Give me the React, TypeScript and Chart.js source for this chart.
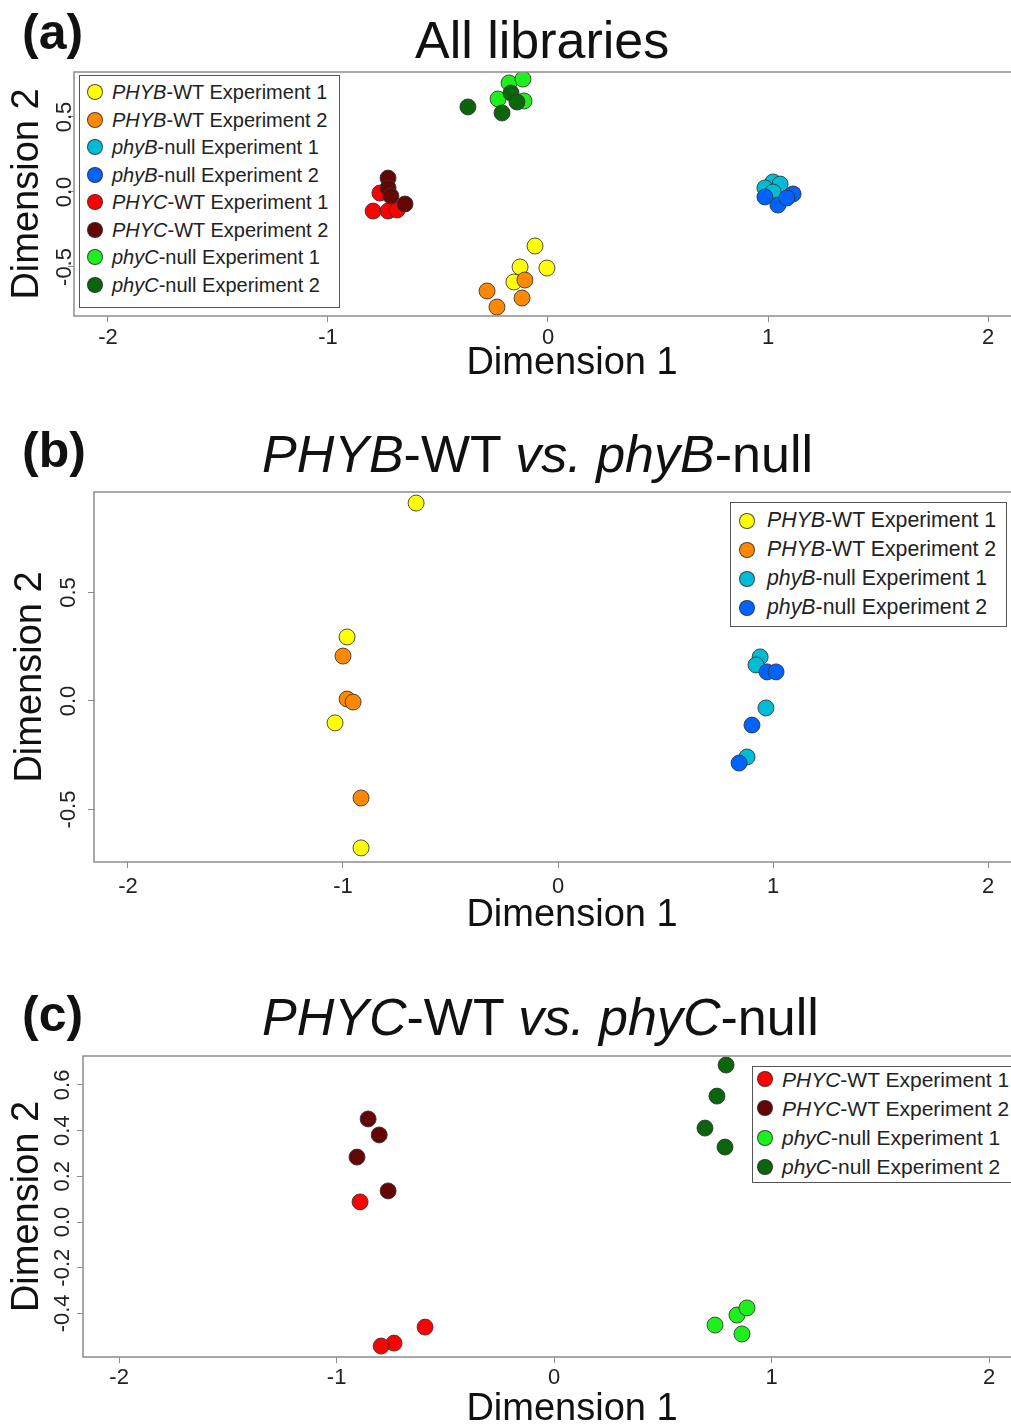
import React, { useEffect, useRef } from 'react';
import { Chart, registerables } from 'chart.js';

Chart.register(...registerables);

const FONT = '"Liberation Sans", Arial, Helvetica, sans-serif';

// ---- series definitions (label = italic gene part + plain rest) ----
const SERIES_ITALIC = ['PHYB', 'PHYB', 'phyB', 'phyB', 'PHYC', 'PHYC', 'phyC', 'phyC'];
const SERIES_REST = [
  '-WT Experiment 1', '-WT Experiment 2', '-null Experiment 1', '-null Experiment 2',
  '-WT Experiment 1', '-WT Experiment 2', '-null Experiment 1', '-null Experiment 2',
];
const SERIES_COLORS = ['#FFFF00', '#FF8800', '#00BCD6', '#0062FF', '#FF0000', '#640606', '#1EF01E', '#0B650B'];

// ---- axis ticks ----
const X_TICK_STEP = 1;
const Y_TICK_STEP_AB = 0.5;
const Y_TICK_STEP_C = 0.2;

// ---- panel (a): all libraries, [Dimension 1, Dimension 2] ----
const A_PHYB_WT_1 = [[-0.059, -0.36], [-0.005, -0.507], [-0.127, -0.5], [-0.155, -0.6]];
const A_PHYB_WT_2 = [[-0.105, -0.587], [-0.277, -0.66], [-0.232, -0.767], [-0.118, -0.707]];
const A_PHYB_NULL_1 = [[1.023, 0.067], [1.055, 0.053], [0.986, 0.027], [1.023, 0.0]];
const A_PHYB_NULL_2 = [[1.114, -0.013], [1.045, -0.087], [0.986, -0.033], [1.086, -0.04]];
const A_PHYC_WT_1 = [[-0.795, -0.127], [-0.727, -0.127], [-0.686, -0.12], [-0.764, -0.007]];
const A_PHYC_WT_2 = [[-0.727, 0.093], [-0.727, 0.027], [-0.714, -0.027], [-0.65, -0.08]];
const A_PHYC_NULL_1 = [[-0.177, 0.727], [-0.114, 0.753], [-0.227, 0.62], [-0.109, 0.607]];
const A_PHYC_NULL_2 = [[-0.364, 0.567], [-0.209, 0.527], [-0.168, 0.66], [-0.141, 0.6]];

// ---- panel (b): PHYB-WT vs phyB-null ----
const B_PHYB_WT_1 = [[-0.66, 0.912], [-0.981, 0.295], [-1.037, -0.101], [-0.916, -0.677]];
const B_PHYB_WT_2 = [[-1.0, 0.207], [-0.981, 0.009], [-0.953, -0.005], [-0.916, -0.447]];
const B_PHYB_NULL_1 = [[0.94, 0.203], [0.921, 0.166], [0.967, -0.032], [0.879, -0.258]];
const B_PHYB_NULL_2 = [[0.972, 0.134], [1.014, 0.134], [0.902, -0.111], [0.842, -0.286]];

// ---- panel (c): PHYC-WT vs phyC-null ----
const C_PHYC_WT_1 = [[-0.892, 0.088], [-0.593, -0.46], [-0.736, -0.53], [-0.795, -0.543]];
const C_PHYC_WT_2 = [[-0.855, 0.451], [-0.804, 0.381], [-0.906, 0.284], [-0.763, 0.136]];
const C_PHYC_NULL_1 = [[0.74, -0.451], [0.841, -0.407], [0.887, -0.376], [0.864, -0.49]];
const C_PHYC_NULL_2 = [[0.791, 0.687], [0.749, 0.551], [0.694, 0.411], [0.786, 0.328]];

// ---- layout (page pixels) ----
type Layout = {
  canvasTop: number; canvasWidth: number; canvasHeight: number; padTop: number;
  yScaleWidth: number; xScaleHeight: number;
  xMin: number; xMax: number; yMin: number; yMax: number; yStep: number;
  xTickPad: number; yTitlePad: number; yLabelX: number;
  legend: { left: number; top: number; width: number; height: number; rowTop: number; rowGap: number; markerX: number; textX: number; font: number };
};

const PANELS: { series: number[]; data: number[][][]; layout: Layout }[] = [
  {
    series: [0, 1, 2, 3, 4, 5, 6, 7],
    data: [A_PHYB_WT_1, A_PHYB_WT_2, A_PHYB_NULL_1, A_PHYB_NULL_2, A_PHYC_WT_1, A_PHYC_WT_2, A_PHYC_NULL_1, A_PHYC_NULL_2],
    layout: {
      canvasTop: 62, canvasWidth: 1070, canvasHeight: 330, padTop: 10,
      yScaleWidth: 74, xScaleHeight: 76,
      xMin: -2.1545, xMax: 2.3727, yMin: -0.8267, yMax: 0.8, yStep: Y_TICK_STEP_AB,
      xTickPad: 5, yTitlePad: 9, yLabelX: 65,
      legend: { left: 79, top: 75, width: 261, height: 233, rowTop: 92, rowGap: 27.57, markerX: 95, textX: 112, font: 20 },
    },
  },
  {
    series: [0, 1, 2, 3],
    data: [B_PHYB_WT_1, B_PHYB_WT_2, B_PHYB_NULL_1, B_PHYB_NULL_2],
    layout: {
      canvasTop: 482, canvasWidth: 1050, canvasHeight: 462, padTop: 10,
      yScaleWidth: 94, xScaleHeight: 82,
      xMin: -2.158, xMax: 2.288, yMin: -0.742, yMax: 0.963, yStep: Y_TICK_STEP_AB,
      xTickPad: 8, yTitlePad: 12, yLabelX: 69,
      legend: { left: 730, top: 502, width: 277, height: 125, rowTop: 521, rowGap: 29, markerX: 747, textX: 767, font: 21.3 },
    },
  },
  {
    series: [4, 5, 6, 7],
    data: [C_PHYC_WT_1, C_PHYC_WT_2, C_PHYC_NULL_1, C_PHYC_NULL_2],
    layout: {
      canvasTop: 1046, canvasWidth: 1061, canvasHeight: 392, padTop: 10,
      yScaleWidth: 83, xScaleHeight: 81,
      xMin: -2.166, xMax: 2.331, yMin: -0.5908, yMax: 0.7265, yStep: Y_TICK_STEP_C,
      xTickPad: 4, yTitlePad: 9, yLabelX: 63,
      legend: { left: 752, top: 1066, width: 300, height: 117, rowTop: 1079, rowGap: 29.3, markerX: 765, textX: 782, font: 21 },
    },
  },
];

const framePlugin = {
  id: 'frameAndYLabels',
  afterDraw(chart: any, _args: any, opts: any) {
    const { ctx, chartArea } = chart;
    const { left, top, right, bottom } = chartArea;
    ctx.save();
    ctx.strokeStyle = '#8c8c8c';
    ctx.lineWidth = 1.5;
    ctx.strokeRect(left, top, right - left, bottom - top);
    const ys = chart.scales.y;
    ctx.font = `22px ${FONT}`;
    ctx.fillStyle = '#222';
    ctx.textAlign = 'center';
    ctx.textBaseline = 'middle';
    ys.ticks.forEach((t: any) => {
      const py = ys.getPixelForValue(t.value);
      ctx.save();
      ctx.translate(opts.labelX, py);
      ctx.rotate(-Math.PI / 2);
      ctx.fillText(String(t.label), 0, 0);
      ctx.restore();
    });
    ctx.restore();
  },
};

function ScatterPanel({ panel }: { panel: (typeof PANELS)[number] }) {
  const ref = useRef<HTMLCanvasElement>(null);
  const L = panel.layout;
  useEffect(() => {
    if (!ref.current) return;
    const chart = new Chart(ref.current, {
      type: 'scatter',
      data: {
        datasets: panel.series.map((si, k) => ({
          label: SERIES_ITALIC[si] + SERIES_REST[si],
          data: panel.data[k].map(([x, y]) => ({ x, y })),
          backgroundColor: SERIES_COLORS[si],
          borderColor: 'rgba(50,50,50,0.85)',
          borderWidth: 1,
          pointRadius: 8,
          pointHoverRadius: 8,
          order: panel.series.length - k,
        })),
      },
      options: {
        animation: false,
        responsive: false,
        devicePixelRatio: 1,
        events: [],
        layout: { autoPadding: false, padding: { top: L.padTop, left: 0, right: 0, bottom: 0 } },
        plugins: {
          legend: { display: false },
          tooltip: { enabled: false },
          frameAndYLabels: { labelX: L.yLabelX },
        } as any,
        scales: {
          x: {
            type: 'linear',
            position: 'bottom',
            min: L.xMin,
            max: L.xMax,
            afterFit: (s: any) => {
              s.height = L.xScaleHeight;
              s.paddingLeft = 0;
              s.paddingRight = 0;
            },
            ticks: {
              stepSize: X_TICK_STEP,
              includeBounds: false,
              autoSkip: false,
              maxRotation: 0,
              padding: L.xTickPad,
              color: '#222',
              font: { family: FONT, size: 22, lineHeight: 1 },
              callback: (v: any) => String(v),
            },
            grid: { drawOnChartArea: false, drawTicks: true, tickLength: 6, color: '#8c8c8c', lineWidth: 1 },
            border: { display: false },
            title: {
              display: true,
              text: 'Dimension 1',
              color: '#111',
              font: { family: FONT, size: 38, lineHeight: 1 },
              padding: { top: 0, bottom: 9 },
            },
          },
          y: {
            type: 'linear',
            position: 'left',
            min: L.yMin,
            max: L.yMax,
            afterFit: (s: any) => {
              s.width = L.yScaleWidth;
              s.paddingTop = 0;
              s.paddingBottom = 0;
            },
            ticks: {
              display: false,
              stepSize: L.yStep,
              includeBounds: false,
              callback: (v: any) => Number(v).toFixed(1),
            },
            grid: { drawOnChartArea: false, drawTicks: true, tickLength: 6, color: '#8c8c8c', lineWidth: 1 },
            border: { display: false },
            title: {
              display: true,
              text: 'Dimension 2',
              color: '#111',
              font: { family: FONT, size: 38, lineHeight: 1 },
              padding: { top: L.yTitlePad, bottom: 0 },
            },
          },
        },
      },
      plugins: [framePlugin as any],
    });
    return () => chart.destroy();
  }, []);
  return (
    <canvas
      ref={ref}
      width={L.canvasWidth}
      height={L.canvasHeight}
      style={{ position: 'absolute', left: 0, top: L.canvasTop, width: L.canvasWidth, height: L.canvasHeight }}
    />
  );
}

function Legend({ panel }: { panel: (typeof PANELS)[number] }) {
  const g = panel.layout.legend;
  return (
    <div>
      <div
        style={{
          position: 'absolute', left: g.left, top: g.top, width: g.width, height: g.height,
          border: '1.5px solid #555', boxSizing: 'border-box', background: '#fff',
        }}
      />
      {panel.series.map((si, i) => {
        const yc = g.rowTop + i * g.rowGap;
        return (
          <React.Fragment key={si}>
            <div
              style={{
                position: 'absolute', left: g.markerX - 8, top: yc - 8, width: 16, height: 16,
                borderRadius: '50%', background: SERIES_COLORS[si], border: '1px solid rgba(50,50,50,0.85)', boxSizing: 'border-box',
              }}
            />
            <div
              style={{
                position: 'absolute', left: g.textX, top: yc - g.font / 2, fontFamily: FONT, fontSize: g.font,
                lineHeight: `${g.font}px`, color: '#222', whiteSpace: 'nowrap',
              }}
            >
              <i>{SERIES_ITALIC[si]}</i>{SERIES_REST[si]}
            </div>
          </React.Fragment>
        );
      })}
    </div>
  );
}

const textStyle = (left: number, top: number, size: number, bold = false): React.CSSProperties => ({
  position: 'absolute', left, top, fontFamily: FONT, fontSize: size, lineHeight: `${size}px`,
  fontWeight: bold ? 'bold' : 'normal', color: '#111', whiteSpace: 'nowrap',
});

export default function App() {
  useEffect(() => {
    document.body.style.margin = '0';
    document.body.style.overflow = 'hidden';
  }, []);
  return (
    <div style={{ position: 'absolute', left: 0, top: 0, width: 1011, height: 1427, overflow: 'hidden', background: '#fff' }}>
      {PANELS.map((p, i) => (
        <ScatterPanel key={i} panel={p} />
      ))}
      {PANELS.map((p, i) => (
        <Legend key={'l' + i} panel={p} />
      ))}
      <div style={textStyle(22, 7, 50, true)}>(a)</div>
      <div style={textStyle(415, 14, 52)}>All libraries</div>
      <div style={textStyle(22, 425, 50, true)}>(b)</div>
      <div style={textStyle(262, 428, 52)}>
        <i>PHYB</i>-WT <i>vs.</i> <i>phyB</i>-null
      </div>
      <div style={textStyle(22, 989, 50, true)}>(c)</div>
      <div style={textStyle(262, 991, 52)}>
        <i>PHYC</i>-WT <i>vs.</i> <i>phyC</i>-null
      </div>
    </div>
  );
}
